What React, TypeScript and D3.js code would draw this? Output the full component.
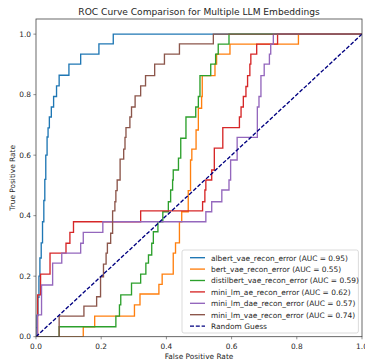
import React from "react";
import * as d3 from "d3";

type Pt = [number, number];

const seriesNames = [
  "albert_vae_recon_error",
  "bert_vae_recon_error",
  "distilbert_vae_recon_error",
  "mini_lm_ae_recon_error",
  "mini_lm_dae_recon_error",
  "mini_lm_vae_recon_error",
];
const aucValues = [0.95, 0.55, 0.59, 0.62, 0.57, 0.74];
const colors = ["#1f77b4", "#ff7f0e", "#2ca02c", "#d62728", "#9467bd", "#8c564b"];
const xTicks = [0, 0.2, 0.4, 0.6, 0.8, 1.0];
const yTicks = [0, 0.2, 0.4, 0.6, 0.8, 1.0];

const albert: Pt[] = [[0,0],[0,0.03],[0.003,0.03],[0.003,0.07],[0.006,0.07],[0.006,0.13],[0.009,0.13],[0.009,0.2],[0.012,0.2],[0.012,0.26],[0.016,0.26],[0.016,0.31],[0.02,0.31],[0.02,0.38],[0.024,0.38],[0.024,0.45],[0.027,0.45],[0.027,0.52],[0.03,0.52],[0.03,0.6],[0.034,0.6],[0.034,0.66],[0.037,0.66],[0.037,0.69],[0.041,0.69],[0.041,0.726],[0.047,0.726],[0.047,0.759],[0.054,0.759],[0.054,0.794],[0.063,0.794],[0.063,0.829],[0.071,0.829],[0.071,0.864],[0.101,0.864],[0.101,0.901],[0.137,0.901],[0.137,0.934],[0.193,0.934],[0.193,0.968],[0.237,0.968],[0.237,1],[1,1]];
const bert: Pt[] = [[0,0],[0.145,0],[0.145,0.033],[0.18,0.033],[0.18,0.068],[0.302,0.068],[0.302,0.105],[0.319,0.105],[0.319,0.141],[0.377,0.141],[0.377,0.173],[0.387,0.173],[0.387,0.207],[0.421,0.207],[0.421,0.276],[0.428,0.276],[0.428,0.31],[0.44,0.31],[0.44,0.38],[0.447,0.38],[0.447,0.413],[0.467,0.413],[0.467,0.483],[0.474,0.483],[0.474,0.584],[0.478,0.584],[0.478,0.62],[0.491,0.62],[0.491,0.683],[0.498,0.683],[0.498,0.755],[0.508,0.755],[0.508,0.794],[0.51,0.794],[0.51,0.863],[0.549,0.863],[0.549,0.901],[0.554,0.901],[0.554,0.934],[0.595,0.934],[0.595,0.967],[0.805,0.967],[0.805,1],[1,1]];
const distilbert: Pt[] = [[0,0],[0.071,0],[0.071,0.033],[0.245,0.033],[0.245,0.068],[0.256,0.068],[0.256,0.105],[0.26,0.105],[0.26,0.138],[0.293,0.138],[0.293,0.177],[0.321,0.177],[0.321,0.207],[0.337,0.207],[0.337,0.243],[0.345,0.243],[0.345,0.27],[0.355,0.27],[0.355,0.309],[0.36,0.309],[0.36,0.347],[0.374,0.347],[0.374,0.38],[0.389,0.38],[0.389,0.413],[0.406,0.413],[0.406,0.446],[0.413,0.446],[0.413,0.485],[0.419,0.485],[0.419,0.518],[0.421,0.518],[0.421,0.551],[0.437,0.551],[0.437,0.59],[0.444,0.59],[0.444,0.656],[0.46,0.656],[0.46,0.726],[0.49,0.726],[0.49,0.759],[0.498,0.759],[0.498,0.794],[0.503,0.794],[0.503,0.863],[0.536,0.863],[0.536,0.901],[0.551,0.901],[0.551,0.934],[0.559,0.934],[0.559,0.967],[0.592,0.967],[0.592,1],[1,1]];
const miniLmAe: Pt[] = [[0,0],[0.005,0],[0.005,0.138],[0.014,0.138],[0.014,0.207],[0.043,0.207],[0.043,0.276],[0.092,0.276],[0.092,0.309],[0.104,0.309],[0.104,0.345],[0.115,0.345],[0.115,0.38],[0.321,0.38],[0.321,0.416],[0.511,0.416],[0.511,0.446],[0.518,0.446],[0.518,0.485],[0.521,0.485],[0.521,0.518],[0.539,0.518],[0.539,0.551],[0.547,0.551],[0.547,0.623],[0.573,0.623],[0.573,0.691],[0.624,0.691],[0.624,0.726],[0.629,0.726],[0.629,0.759],[0.636,0.759],[0.636,0.794],[0.644,0.794],[0.644,0.827],[0.649,0.827],[0.649,0.863],[0.656,0.863],[0.656,0.901],[0.659,0.901],[0.659,0.934],[0.677,0.934],[0.677,0.967],[0.741,0.967],[0.741,1],[1,1]];
const miniLmDae: Pt[] = [[0,0],[0.004,0],[0.004,0.072],[0.017,0.072],[0.017,0.171],[0.051,0.171],[0.051,0.243],[0.079,0.243],[0.079,0.276],[0.137,0.276],[0.137,0.309],[0.145,0.309],[0.145,0.345],[0.205,0.345],[0.205,0.38],[0.521,0.38],[0.521,0.413],[0.539,0.413],[0.539,0.446],[0.57,0.446],[0.57,0.485],[0.592,0.485],[0.592,0.518],[0.597,0.518],[0.597,0.584],[0.617,0.584],[0.617,0.659],[0.679,0.659],[0.679,0.759],[0.684,0.759],[0.684,0.794],[0.69,0.794],[0.69,0.863],[0.7,0.863],[0.7,0.901],[0.716,0.901],[0.716,0.934],[0.72,0.934],[0.72,0.967],[0.728,0.967],[0.728,1],[1,1]];
const miniLmVae: Pt[] = [[0,0],[0.071,0],[0.071,0.068],[0.147,0.068],[0.147,0.101],[0.186,0.101],[0.186,0.132],[0.198,0.132],[0.198,0.198],[0.207,0.198],[0.207,0.24],[0.215,0.24],[0.215,0.276],[0.219,0.276],[0.219,0.309],[0.229,0.309],[0.229,0.342],[0.235,0.342],[0.235,0.416],[0.242,0.416],[0.242,0.446],[0.245,0.446],[0.245,0.483],[0.249,0.483],[0.249,0.518],[0.258,0.518],[0.258,0.587],[0.269,0.587],[0.269,0.62],[0.273,0.62],[0.273,0.659],[0.276,0.659],[0.276,0.691],[0.288,0.691],[0.288,0.726],[0.293,0.726],[0.293,0.759],[0.304,0.759],[0.304,0.796],[0.321,0.796],[0.321,0.829],[0.336,0.829],[0.336,0.863],[0.364,0.863],[0.364,0.901],[0.394,0.901],[0.394,0.934],[0.44,0.934],[0.44,0.968],[0.544,0.968],[0.544,1],[1,1]];
const randomGuess: Pt[] = [[0,0],[1,1]];

const curves: Pt[][] = [albert, bert, distilbert, miniLmAe, miniLmDae, miniLmVae];

const W = 365, H = 362;
const left = 36, right = 362, top = 19, bottom = 336.7;
const FONT = "DejaVu Sans, sans-serif";

export default function App() {
  const x = d3.scaleLinear().domain([0, 1]).range([left, right]);
  const y = d3.scaleLinear().domain([0, 1.05]).range([bottom, top]);
  const line = d3.line<Pt>().x((d) => x(d[0])).y((d) => y(d[1]));
  const fmt = d3.format(".1f");

  const legendLeft = 182, legendTop = 250, legendRight = 358.4, legendBottom = 333;
  const rowY = (i: number) => 257.7 + i * 11.4;
  const legendLabels = seriesNames.map((n, i) => `${n} (AUC = ${aucValues[i].toFixed(2)})`).concat(["Random Guess"]);
  const legendColors = colors.concat(["#000080"]);

  return (
    <svg width={W} height={H} style={{ position: "absolute", left: 0, top: 0, background: "#fff" }} fontFamily={FONT}>
      <defs>
        <clipPath id="plotclip">
          <rect x={left} y={top} width={right - left} height={bottom - top} />
        </clipPath>
      </defs>
      <rect x={0} y={0} width={W} height={H} fill="#fff" />
      <text x={(left + right) / 2} y={14.5} textAnchor="middle" fontSize={9.1} fill="#262626">
        ROC Curve Comparison for Multiple LLM Embeddings
      </text>
      <g clipPath="url(#plotclip)">
        {curves.map((c, i) => (
          <path key={i} d={line(c) || ""} fill="none" stroke={colors[i]} strokeWidth={1.35} strokeLinejoin="miter" />
        ))}
        <path d={line(randomGuess) || ""} fill="none" stroke="#000080" strokeWidth={1.35} strokeDasharray="4,1.8" />
      </g>
      <rect x={left} y={top} width={right - left} height={bottom - top} fill="none" stroke="#444" strokeWidth={0.8} />
      {xTicks.map((t) => (
        <g key={"x" + t}>
          <line x1={x(t)} x2={x(t)} y1={bottom} y2={bottom + 2.6} stroke="#444" strokeWidth={0.6} />
          <text x={x(t)} y={348.5} textAnchor="middle" fontSize={7.4} fill="#262626">{fmt(t)}</text>
        </g>
      ))}
      {yTicks.map((t) => (
        <g key={"y" + t}>
          <line x1={left - 2.6} x2={left} y1={y(t)} y2={y(t)} stroke="#444" strokeWidth={0.6} />
          <text x={31} y={y(t) + 2.6} textAnchor="end" fontSize={7.4} fill="#262626">{fmt(t)}</text>
        </g>
      ))}
      <text x={(left + right) / 2} y={359} textAnchor="middle" fontSize={7.4} fill="#262626">False Positive Rate</text>
      <text transform={`translate(14.5,${(top + bottom) / 2}) rotate(-90)`} textAnchor="middle" fontSize={7.4} fill="#262626">True Positive Rate</text>
      <rect x={legendLeft} y={legendTop} width={legendRight - legendLeft} height={legendBottom - legendTop} rx={2} ry={2} fill="#fff" fillOpacity={0.8} stroke="#cccccc" strokeWidth={0.7} />
      {legendLabels.map((lab, i) => (
        <g key={lab}>
          <line x1={190} x2={205} y1={rowY(i)} y2={rowY(i)} stroke={legendColors[i]} strokeWidth={1.35} strokeDasharray={i === 6 ? "4,1.8" : undefined} />
          <text x={211} y={rowY(i) + 2.8} fontSize={7.45} fill="#262626">{lab}</text>
        </g>
      ))}
    </svg>
  );
}
